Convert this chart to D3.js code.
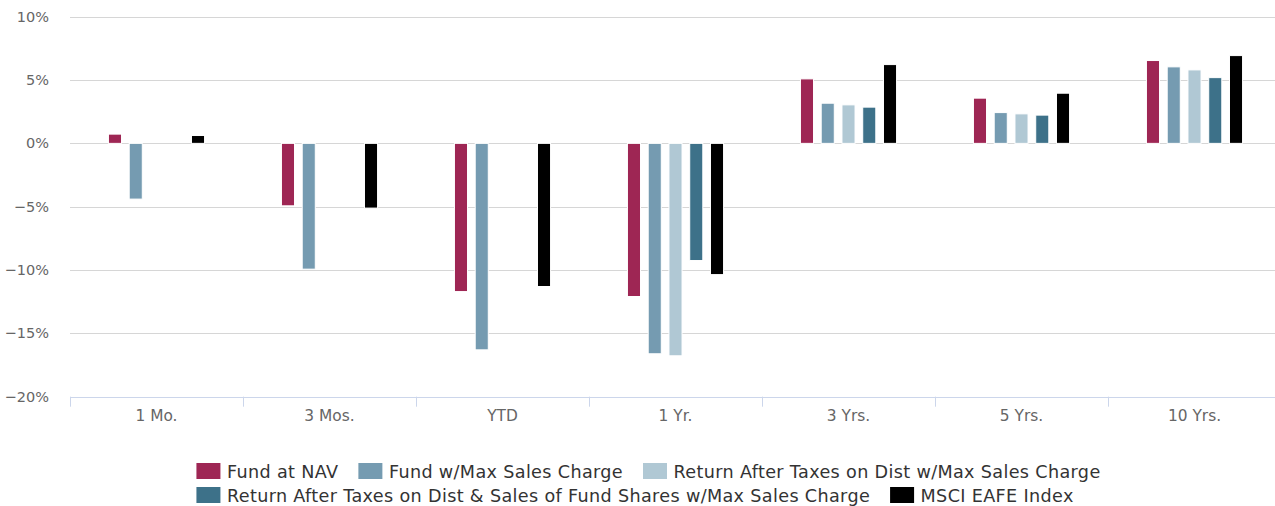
<!DOCTYPE html>
<html>
<head>
<meta charset="utf-8">
<script src="https://cdn.jsdelivr.net/npm/d3@7"></script>
<style>
  body { margin: 0; background: #fff; }
  svg { display: block; font-family: "DejaVu Sans", sans-serif; }
</style>
</head>
<body>
<svg id="chart" width="1275" height="506"></svg>
<script>
// categories & series
const categories = ["1 Mo.", "3 Mos.", "YTD", "1 Yr.", "3 Yrs.", "5 Yrs.", "10 Yrs."];
const seriesNames = [
  "Fund at NAV",
  "Fund w/Max Sales Charge",
  "Return After Taxes on Dist w/Max Sales Charge",
  "Return After Taxes on Dist & Sales of Fund Shares w/Max Sales Charge",
  "MSCI EAFE Index"
];
const seriesColors = ["#9e2654", "#759bb1", "#b0c8d4", "#3d7189", "#000000"];

const fundNav      = [0.73, -4.93, -11.70, -12.09, 5.09, 3.57, 6.54];
const fundMax      = [-4.40, -9.93, -16.30, -16.61, 3.17, 2.43, 6.04];
const afterTaxDist = [null, null, null, -16.77, 3.04, 2.33, 5.80];
const afterTaxSale = [null, null, null, -9.25, 2.86, 2.23, 5.19];
const msciEafe     = [0.62, -5.11, -11.30, -10.36, 6.22, 3.96, 6.93];

const yTicks = [10, 5, 0, -5, -10, -15, -20];

const allSeries = [fundNav, fundMax, afterTaxDist, afterTaxSale, msciEafe];

const svg = d3.select("#chart");
const plot = { left: 70, right: 1281, top: 16.7, bottom: 396.7 };

const x0 = d3.scaleBand()
  .domain(categories)
  .range([plot.left, plot.right])
  .paddingInner(0).paddingOuter(0);

const bw = x0.bandwidth();
const x1 = d3.scaleBand()
  .domain(d3.range(seriesNames.length))
  .range([0.2 * bw, 0.8 * bw])
  .paddingInner(0.37)
  .paddingOuter(0.185);

const y = d3.scaleLinear()
  .domain([-20, 10])
  .range([plot.bottom, plot.top]);

// gridlines
svg.append("g")
  .selectAll("line")
  .data(yTicks.filter(d => d !== -20))
  .join("line")
  .attr("x1", plot.left)
  .attr("x2", plot.right)
  .attr("y1", d => Math.round(y(d)) + 0.5)
  .attr("y2", d => Math.round(y(d)) + 0.5)
  .attr("stroke", "#d6d6d6")
  .attr("stroke-width", 1);

// y labels
svg.append("g")
  .selectAll("text")
  .data(yTicks)
  .join("text")
  .attr("x", 49)
  .attr("y", d => y(d) + 5)
  .attr("text-anchor", "end")
  .attr("font-size", 14.5)
  .attr("fill", "#666")
  .text(d => (d < 0 ? "\u2212" + Math.abs(d) : d) + "%");

// bars
const groups = svg.append("g")
  .selectAll("g")
  .data(categories)
  .join("g")
  .attr("transform", d => `translate(${x0(d)},0)`);

groups.selectAll("rect")
  .data((c, ci) => allSeries.map((s, si) => ({ si, v: s[ci] })).filter(d => d.v !== null))
  .join("rect")
  .attr("x", d => x1(d.si))
  .attr("width", x1.bandwidth())
  .attr("y", d => y(Math.max(0, d.v)))
  .attr("height", d => Math.abs(y(d.v) - y(0)))
  .attr("fill", d => seriesColors[d.si])
  .attr("stroke", "#fff")
  .attr("stroke-width", 1);

// x axis
const xAxis = svg.append("g");
xAxis.append("line")
  .attr("x1", plot.left).attr("x2", plot.right)
  .attr("y1", Math.round(plot.bottom) + 0.5).attr("y2", Math.round(plot.bottom) + 0.5)
  .attr("stroke", "#ccd6eb");
xAxis.selectAll(".tick")
  .data(categories.map(c => x0(c)).concat([plot.right]))
  .join("line")
  .attr("x1", d => Math.round(d) + 0.5).attr("x2", d => Math.round(d) + 0.5)
  .attr("y1", plot.bottom).attr("y2", plot.bottom + 10)
  .attr("stroke", "#ccd6eb");
xAxis.selectAll("text")
  .data(categories)
  .join("text")
  .attr("x", d => x0(d) + bw / 2)
  .attr("y", 421)
  .attr("text-anchor", "middle")
  .attr("font-size", 15.4)
  .attr("fill", "#666")
  .text(d => d);

// legend: rows left-aligned inside a centred box
const legendRows = [[0, 1, 2], [3, 4]];
const legendY = [463, 487];
const legend = svg.append("g");
const gap = 20;
const rowItems = legendRows.map((row, ri) => row.map(i => {
  const g = legend.append("g");
  g.append("rect")
    .attr("width", 24).attr("height", 16)
    .attr("fill", seriesColors[i]);
  const t = g.append("text")
    .attr("x", 30.5).attr("y", 14.5)
    .attr("font-size", 17.6)
    .attr("letter-spacing", 0.35)
    .attr("fill", "#333")
    .text(seriesNames[i]);
  return { g, w: 30.5 + t.node().getComputedTextLength() };
}));
const rowWidths = rowItems.map(items => d3.sum(items, d => d.w) + gap * (items.length - 1));
const startX = 648.5 - d3.max(rowWidths) / 2;
rowItems.forEach((items, ri) => {
  let cx = startX;
  items.forEach(it => {
    it.g.attr("transform", `translate(${cx},${legendY[ri]})`);
    cx += it.w + gap;
  });
});
</script>
</body>
</html>
